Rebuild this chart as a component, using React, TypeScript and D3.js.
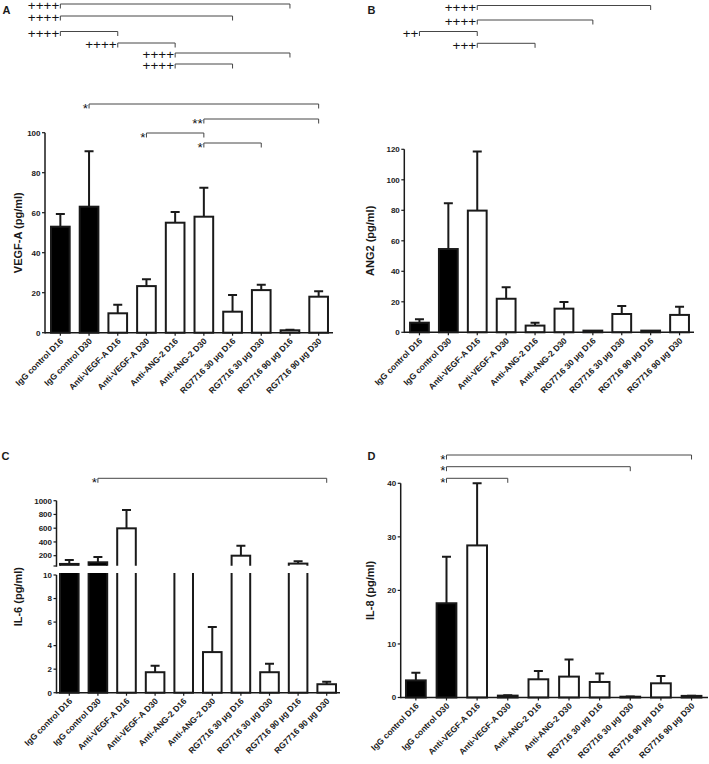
import React from "react";
import * as d3 from "d3";

// group labels (same for all four panels)
const categories = [
  "IgG control D16",
  "IgG control D30",
  "Anti-VEGF-A D16",
  "Anti-VEGF-A D30",
  "Anti-ANG-2 D16",
  "Anti-ANG-2 D30",
  "RG7716 30 μg D16",
  "RG7716 30 μg D30",
  "RG7716 90 μg D16",
  "RG7716 90 μg D30"
];

// A: VEGF-A (pg/ml)
const vegfMean = [53, 63, 9.7, 23.3, 55, 58, 10.5, 21.3, 1.2, 18];
const vegfErr = [6.3, 27.7, 4.3, 3.4, 5.3, 14.5, 8.3, 2.7, 0.3, 2.7];
const vegfTicks = [0, 20, 40, 60, 80, 100];
const vegfPlus = [[0, 8, "++++"], [0, 6, "++++"], [0, 2, "++++"], [2, 4, "++++"], [4, 8, "++++"], [4, 6, "++++"]];
const vegfStars = [[1, 9, "*"], [5, 9, "**"], [3, 5, "*"], [5, 7, "*"]];

// B: ANG2 (pg/ml)
const ang2Mean = [6.3, 54.6, 79.8, 22, 4.4, 15.5, 1.1, 12, 1.1, 11.4];
const ang2Err = [2.2, 30, 38.7, 7.5, 1.9, 4.4, 0, 5.3, 0, 5.4];
const ang2Ticks = [0, 20, 40, 60, 80, 100, 120];
const ang2Plus = [[2, 8, "++++"], [2, 6, "++++"], [0, 2, "++"], [2, 4, "+++"]];

// C: IL-6 (pg/ml), broken axis
const il6Mean = [80, 104, 598, 1.74, 20, 3.45, 200, 1.74, 85, 0.72];
const il6Err = [57, 77, 267, 0.56, 8, 2.14, 145, 0.71, 35, 0.22];
const il6TicksLow = [0, 2, 4, 6, 8, 10];
const il6TicksHigh = [200, 400, 600, 800, 1000];
const il6Stars = [[1, 9, "*"]];

// D: IL-8 (pg/ml)
const il8Mean = [3.2, 17.6, 28.4, 0.35, 3.4, 3.9, 2.9, 0.15, 2.65, 0.3];
const il8Err = [1.4, 8.7, 11.6, 0.05, 1.55, 3.2, 1.6, 0.05, 1.35, 0.05];
const il8Ticks = [0, 10, 20, 30, 40];
const il8Stars = [[1, 9, "*"], [1, 7, "*"], [1, 3, "*"]];

const FONT = "Arial, 'Liberation Sans', Helvetica, sans-serif";
const INK = "#1a1a1a";

const band = (x0, x1, inner = 0.28) =>
  d3.scaleBand().domain(categories).range([x0, x1]).paddingInner(inner).paddingOuter(0.14);

function Bars({ x, y, means, errs, base, clip }) {
  const bw = x.bandwidth();
  return (
    <g clipPath={clip ? `url(#${clip})` : undefined}>
      {categories.map((c, i) => {
        const x0 = x(c);
        const cx = x0 + bw / 2;
        const top = y(means[i]);
        const cap = y(means[i] + errs[i]);
        const filled = c.startsWith("IgG");
        return (
          <g key={c}>
            {errs[i] > 0 && (
              <path d={`M${cx},${top}V${cap}M${cx - 4.5},${cap}H${cx + 4.5}`} stroke={INK} strokeWidth={2} fill="none" />
            )}
            <rect x={x0 + 1} y={top} width={bw - 2} height={Math.max(0, base - top)}
              fill={filled ? "#000" : "#fff"} stroke={INK} strokeWidth={2} />
          </g>
        );
      })}
    </g>
  );
}

function YAxis({ y, ticks, x, extra = [] }) {
  const [r0, r1] = y.range();
  return (
    <g>
      <line x1={x} x2={x} y1={r0 + 0.75} y2={r1} stroke={INK} strokeWidth={1.5} />
      {ticks.concat(extra).map(t => (
        <line key={"t" + t} x1={x - 3} x2={x} y1={y(t)} y2={y(t)} stroke={INK} strokeWidth={1.2} />
      ))}
      {ticks.map(t => (
        <text key={t} x={x - 4.5} y={y(t)} dy="0.35em" textAnchor="end" fontSize={8} fontWeight="bold" fill={INK}>
          {t}
        </text>
      ))}
    </g>
  );
}

function XAxis({ x, y0, x0, x1 }) {
  const bw = x.bandwidth();
  return (
    <g>
      <line x1={x0} x2={x1} y1={y0} y2={y0} stroke={INK} strokeWidth={1.5} />
      {categories.map(c => {
        const cx = x(c) + bw / 2;
        return (
          <g key={c}>
            <line x1={cx} x2={cx} y1={y0} y2={y0 + 3} stroke={INK} strokeWidth={1.2} />
            <text transform={`translate(${cx + 3.5},${y0 + 9}) rotate(-45)`} textAnchor="end"
              fontSize={8.5} fontWeight="bold" fill={INK}>
              {c}
            </text>
          </g>
        );
      })}
    </g>
  );
}

function Brackets({ x, comps, rows }) {
  const bw = x.bandwidth();
  return (
    <g opacity={0.99}>
      {comps.map(([a, b, lab], i) => {
        const xa = x(categories[a]) + bw / 2;
        const xb = x(categories[b]) + bw / 2;
        const y = rows[i];
        const star = lab.includes("*");
        return (
          <g key={i}>
            <path d={`M${xa},${y + 4.5}V${y}H${xb}V${y + 4.5}`} fill="none" stroke="#444" strokeWidth={1} />
            <text x={xa - 1} y={y + (star ? 8.5 : 6.2)} textAnchor="end"
              fontSize={star ? 13.5 : 13.5} fill="#111">
              {lab}
            </text>
          </g>
        );
      })}
    </g>
  );
}

function YLabel({ x, y, text }) {
  return (
    <text transform={`translate(${x},${y}) rotate(-90)`} dy="0.35em" textAnchor="middle"
      fontSize={11} fontWeight="bold" fill={INK}>
      {text}
    </text>
  );
}

function Letter({ x, y, text }) {
  return <text x={x} y={y} fontSize={11} fontWeight="bold" fill={INK}>{text}</text>;
}

export default function App() {
  // panel A
  const xA = band(46, 333);
  const yA = d3.scaleLinear().domain([0, 100]).range([332.7, 132.7]);
  // panel B
  const xB = band(405, 694);
  const yB = d3.scaleLinear().domain([0, 120]).range([332.3, 149.3]);
  // panel C (two segments)
  const xC = band(55, 341);
  const yCLow = d3.scaleLinear().domain([0, 10]).range([692.7, 575]);
  const yCHigh = d3.scaleLinear().domain([50, 1000]).range([566, 500.7]);
  // panel D
  const xD = band(400.7, 706.7, 0.29);
  const yD = d3.scaleLinear().domain([0, 40]).range([697.5, 483.3]);

  return (
    <svg width={709} height={764} style={{ position: "absolute", left: 0, top: 0, background: "#fff" }}
      fontFamily={FONT}>
      <defs>
        <clipPath id="cLow"><rect x={0} y={573} width={709} height={130} /></clipPath>
        <clipPath id="cHigh"><rect x={0} y={490} width={709} height={75.8} /></clipPath>
      </defs>

      {/* A */}
      <Letter x={2.5} y={13.5} text="A" />
      <Brackets x={xA} comps={vegfPlus} rows={[4, 16, 31.5, 43, 53, 64]} />
      <Brackets x={xA} comps={vegfStars} rows={[104, 119, 133, 143]} />
      <Bars x={xA} y={yA} means={vegfMean} errs={vegfErr} base={yA(0)} />
      <XAxis x={xA} y0={yA(0)} x0={45} x1={333} />
      <YAxis x={45} y={yA} ticks={vegfTicks} />
      <YLabel x={18} y={232.7} text="VEGF-A (pg/ml)" />

      {/* B */}
      <Letter x={367.5} y={13.5} text="B" />
      <Brackets x={xB} comps={ang2Plus} rows={[5.5, 20, 31.5, 43.3]} />
      <Bars x={xB} y={yB} means={ang2Mean} errs={ang2Err} base={yB(0)} />
      <XAxis x={xB} y0={yB(0)} x0={404.3} x1={694} />
      <YAxis x={404.3} y={yB} ticks={ang2Ticks} />
      <YLabel x={370} y={240.8} text="ANG2 (pg/ml)" />

      {/* C */}
      <Letter x={1.5} y={459.5} text="C" />
      <Brackets x={xC} comps={il6Stars} rows={[478.3]} />
      <Bars x={xC} y={yCLow} means={il6Mean} errs={il6Err} base={yCLow(0)} clip="cLow" />
      <Bars x={xC} y={yCHigh} means={il6Mean} errs={il6Err} base={580} clip="cHigh" />
      <XAxis x={xC} y0={yCLow(0)} x0={56.5} x1={340} />
      <YAxis x={56.5} y={yCLow} ticks={il6TicksLow} />
      <YAxis x={56.5} y={yCHigh} ticks={il6TicksHigh} extra={[50]} />
      <YLabel x={18} y={596.7} text="IL-6 (pg/ml)" />

      {/* D */}
      <Letter x={367.5} y={459.5} text="D" />
      <Brackets x={xD} comps={il8Stars} rows={[455, 466.7, 478.3]} />
      <Bars x={xD} y={yD} means={il8Mean} errs={il8Err} base={yD(0)} />
      <XAxis x={xD} y0={yD(0)} x0={400.7} x1={708} />
      <YAxis x={400.7} y={yD} ticks={il8Ticks} />
      <YLabel x={370} y={590.4} text="IL-8 (pg/ml)" />
    </svg>
  );
}
